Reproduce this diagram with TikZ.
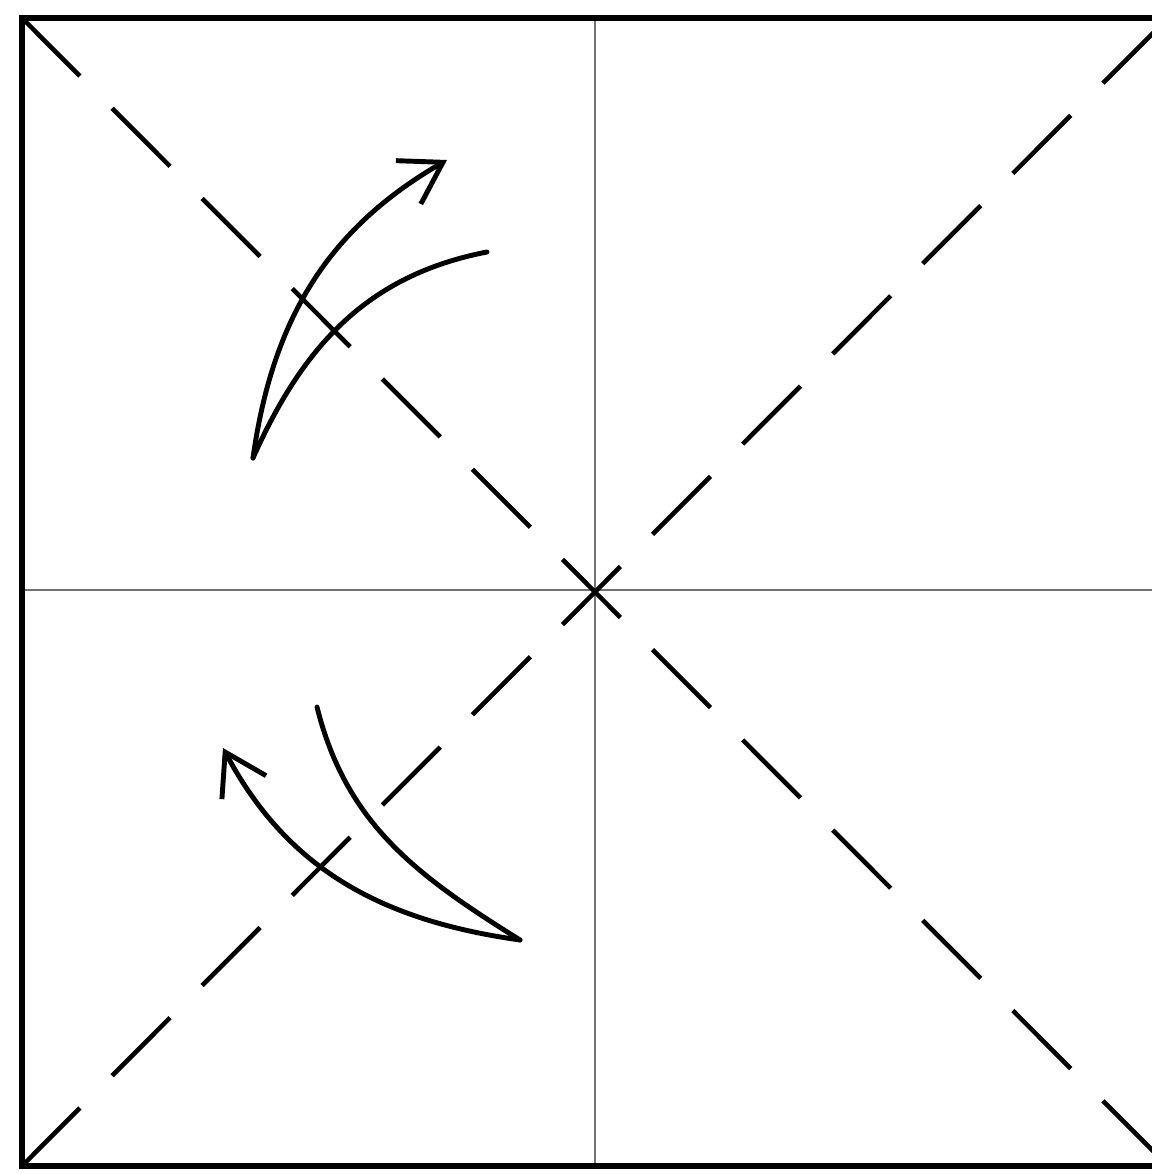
\documentclass[tikz,border=0pt]{standalone}
\usepackage{tikz}
\usetikzlibrary{arrows.meta}

\begin{document}
\begin{tikzpicture}[>={Straight Barb[length=4mm,width=5mm]},
  crease/.style={line width=1.3pt,dash pattern=on 0.82cm off 0.455cm},
  fold/.style={line width=1.4pt,line cap=round}]
\clip (0,0) rectangle (11.52,11.74);
\coordinate (sw) at (0.22,0.08);
\coordinate (se) at (11.68,0.08);
\coordinate (ne) at (11.68,11.56);
\coordinate (nw) at (0.22,11.56);
\coordinate (m) at (5.95,5.84);
\draw[black!55,line width=0.5pt] (m |- sw) -- (m |- nw);
\draw[black!55,line width=0.5pt] (m -| sw) -- (m -| se);
\draw[crease] (nw) -- (se);
\draw[crease] (sw) -- (ne);
\draw[line width=1.7pt] (sw) rectangle (ne);
% upper fold
\coordinate (a0) at (2.53,7.16);
\coordinate (a1) at (4.47,10.14);
\coordinate (b1) at (4.87,9.22);
\draw[fold,->] (a0) to[out=82,in=210] (a1);
\draw[fold] (a0) to[out=66,in=191] (b1);
% lower fold
\coordinate (c0) at (5.20,2.34);
\coordinate (c1) at (2.23,4.26);
\coordinate (d1) at (3.17,4.67);
\draw[fold,->] (c0) to[out=172,in=298] (c1);
\draw[fold] (c0) to[out=148,in=284] (d1);
\end{tikzpicture}
\end{document}
